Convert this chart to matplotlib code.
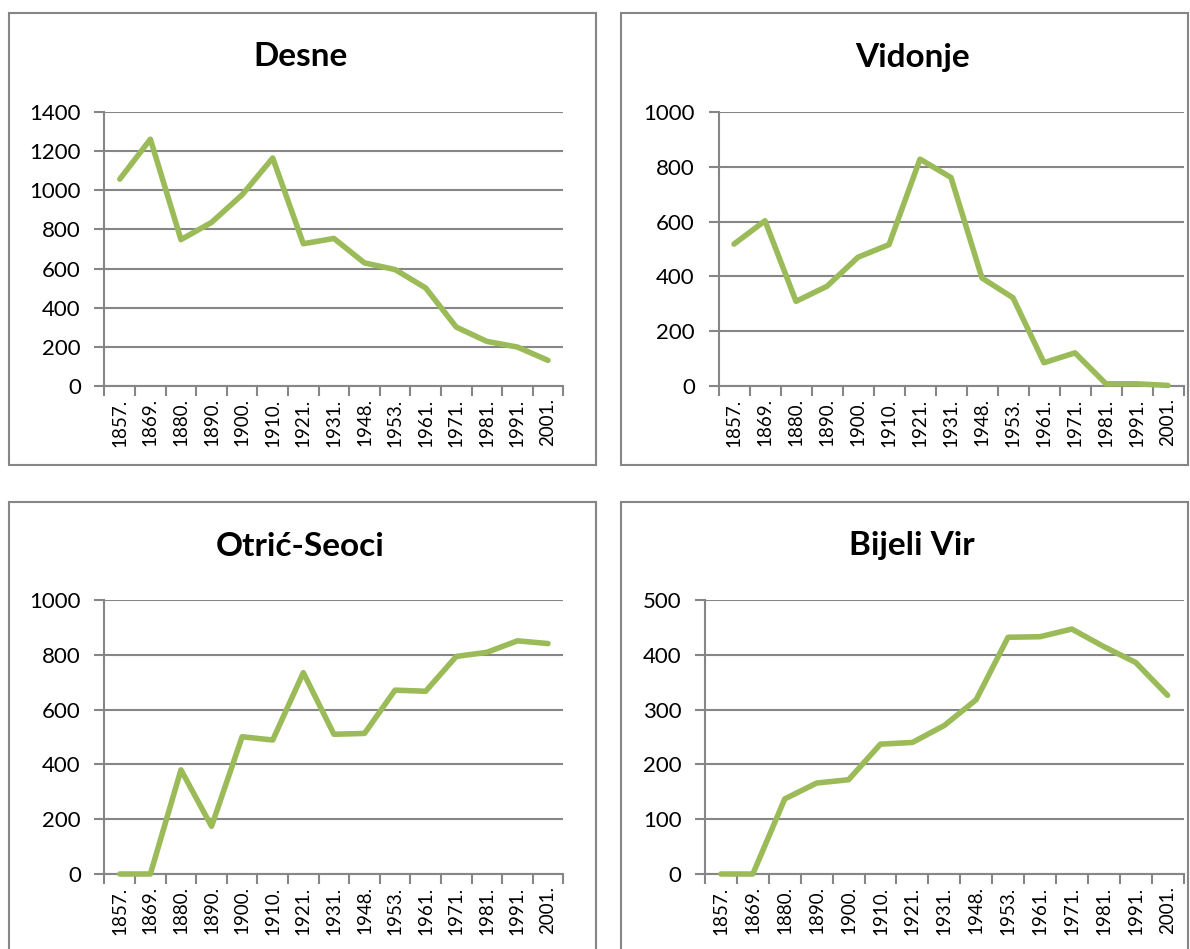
import matplotlib.pyplot as plt
from matplotlib.patches import Rectangle

# census years and population per settlement
years = ['1857.', '1869.', '1880.', '1890.', '1900.', '1910.', '1921.', '1931.',
         '1948.', '1953.', '1961.', '1971.', '1981.', '1991.', '2001.']
desne = [1057, 1261, 748, 836, 977, 1165, 727, 754, 629, 595, 501, 301, 228, 199, 131]
vidonje = [518, 603, 309, 364, 470, 516, 828, 761, 394, 322, 85, 121, 8, 8, 2]
otric_seoci = [0, 0, 380, 174, 501, 489, 735, 510, 513, 671, 667, 794, 809, 851, 841]
bijeli_vir = [0, 0, 137, 166, 172, 237, 240, 271, 318, 432, 433, 447, 415, 386, 326]

W, H = 1190, 949
GREEN = '#9bbb59'
GRAY = '#868686'

plt.rcParams['font.family'] = ['Lato', 'DejaVu Sans']

fig = plt.figure(figsize=(W / 100, H / 100), dpi=100)

def px_rect(x0, y0, x1, y1):
    # pixel box (top-left origin) -> figure fraction
    return [x0 / W, 1 - y1 / H, (x1 - x0) / W, (y1 - y0) / H]

panels = [
    ('Desne', desne, 1400, 200, (9, 13, 596, 465), (104.5, 112, 563.3, 386), (301, 57)),
    ('Vidonje', vidonje, 1000, 200, (621, 13, 1188, 465), (718.5, 112, 1183.5, 386), (912, 57)),
    ('Otrić-Seoci', otric_seoci, 1000, 200, (9, 502, 596, 960), (104.5, 600, 563.3, 874), (300, 546)),
    ('Bijeli Vir', bijeli_vir, 500, 100, (621, 502, 1188, 960), (705, 600, 1183.5, 874), (912, 546)),
]

for title, vals, ymax, step, box, area, tpos in panels:
    bx = px_rect(*box)
    fig.patches.append(Rectangle((bx[0], bx[1]), bx[2], bx[3], transform=fig.transFigure,
                                 fill=False, edgecolor=GRAY, linewidth=1.5, zorder=0))
    ax = fig.add_axes(px_rect(*area))
    ax.plot(range(len(years)), vals, color=GREEN, linewidth=4,
            solid_capstyle='round', solid_joinstyle='round', clip_on=False, zorder=3)
    ax.set_xlim(-0.5, len(years) - 0.5)
    ax.set_ylim(0, ymax)
    ax.set_yticks(range(0, ymax + 1, step))
    ax.grid(axis='y', color=GRAY, linewidth=1.5)
    ax.set_axisbelow(True)
    ax.set_xticks(range(len(years)))
    ax.set_xticklabels(years, rotation=90, fontsize=13.5)
    ax.set_xticks([i - 0.5 for i in range(len(years) + 1)], minor=True)
    ax.tick_params(axis='x', which='major', length=0, pad=9)
    ax.tick_params(axis='x', which='minor', length=7, width=1.5, color=GRAY)
    ax.tick_params(axis='y', length=7, width=1.5, color=GRAY, labelsize=16, pad=10)
    for s in ['top', 'right']:
        ax.spines[s].set_visible(False)
    for s in ['left', 'bottom']:
        ax.spines[s].set_color(GRAY)
        ax.spines[s].set_linewidth(1.5)
    fig.text(tpos[0] / W, 1 - tpos[1] / H, title, ha='center', va='center',
             fontsize=24, fontweight='bold')

fig.savefig('out.png', dpi=100, facecolor='white')
